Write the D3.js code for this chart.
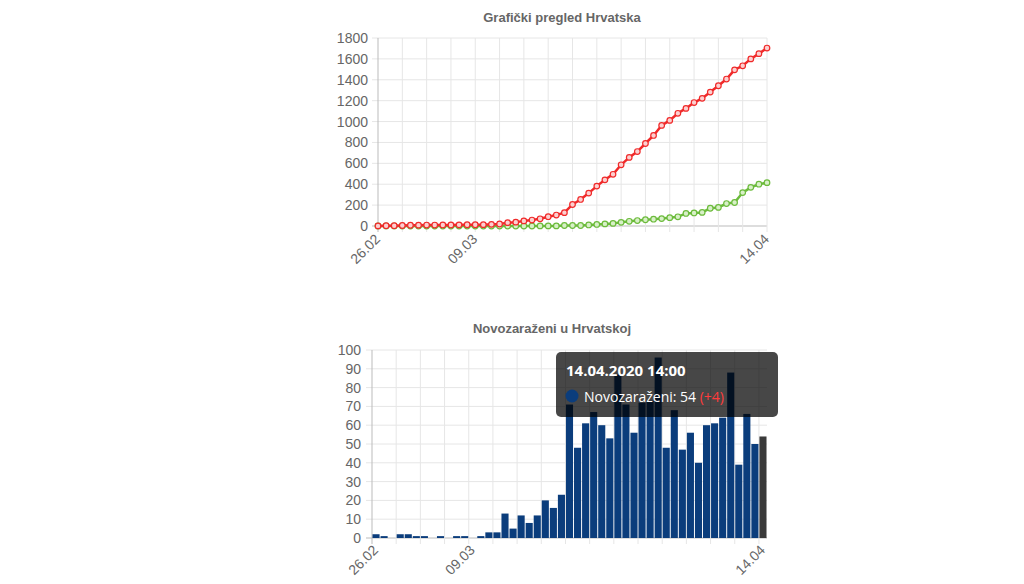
<!DOCTYPE html><html><head><meta charset="utf-8"><script src="https://cdn.jsdelivr.net/npm/d3@7"></script>
<style>body{margin:0;background:#fff;font-family:"Liberation Sans",Arial,sans-serif}</style></head><body><svg id="c" width="1024" height="584"></svg>
<script>
const dates=["26.02","27.02","28.02","29.02","01.03","02.03","03.03","04.03","05.03","06.03","07.03","08.03","09.03","10.03","11.03","12.03","13.03","14.03","15.03","16.03","17.03","18.03","19.03","20.03","21.03","22.03","23.03","24.03","25.03","26.03","27.03","28.03","29.03","30.03","31.03","01.04","02.04","03.04","04.04","05.04","06.04","07.04","08.04","09.04","10.04","11.04","12.04","13.04","14.04"];
const tickLabels=["26.02","09.03","14.04"];
const infected=[1,3,3,5,7,8,9,9,10,10,11,12,12,13,16,19,32,37,49,57,69,89,105,128,206,254,315,382,442,495,586,657,713,790,867,963,1011,1079,1126,1182,1222,1282,1343,1407,1495,1534,1600,1650,1704];
const recovered=[0,0,0,0,0,0,0,0,0,0,0,0,0,0,0,0,0,0,0,0,0,1,1,1,5,5,5,10,15,20,25,35,45,52,60,65,71,80,88,120,125,130,170,178,215,225,320,370,400,415];
const newCases=[2,1,0,2,2,1,1,0,1,0,1,1,0,1,3,3,13,5,12,8,12,20,16,23,71,48,61,67,60,53,87,71,56,72,73,96,48,68,47,56,40,60,61,64,88,39,66,50,54];
const yTicksTop=d3.range(0,1801,200), yTicksBot=d3.range(0,101,10);
const svg=d3.select("#c");
const grid="#e6e6e6", axisC="#bbb", txt="#666";
// top chart
const x1=d3.scaleLinear().domain([0,48]).range([378,767]);
const y1=d3.scaleLinear().domain([0,1800]).range([226,38]);
const g1=svg.append("g");
g1.selectAll(".gy").data(yTicksTop).join("line").attr("x1",372).attr("x2",767).attr("y1",d=>y1(d)).attr("y2",d=>y1(d)).attr("stroke",d=>d?grid:axisC);
g1.selectAll(".gx").data(d3.range(0,49,3)).join("line").attr("x1",d=>x1(d)).attr("x2",d=>x1(d)).attr("y1",38).attr("y2",232).attr("stroke",d=>d?grid:axisC);
g1.selectAll(".ty").data(yTicksTop).join("text").attr("x",368).attr("y",d=>y1(d)+5).attr("text-anchor","end").attr("font-size",14).attr("fill",txt).text(d=>d);
g1.selectAll(".tx").data(tickLabels).join("text").attr("transform",d=>`translate(${x1(dates.indexOf(d))+3},${240}) rotate(-45)`).attr("text-anchor","end").attr("font-size",14).attr("fill",txt).text(d=>d);
svg.append("text").attr("x",562).attr("y",22).attr("text-anchor","middle").attr("font-size",13).attr("font-weight","bold").attr("fill",txt).text("Grafički pregled Hrvatska");
function series(data,col,fill){
 const s=data.slice(0,49);
 g1.append("path").datum(s).attr("fill","none").attr("stroke",col).attr("stroke-width",2.5).attr("d",d3.line().x((d,i)=>x1(i)).y(d=>y1(d)));
 g1.selectAll(null).data(s).join("circle").attr("cx",(d,i)=>x1(i)).attr("cy",d=>y1(d)).attr("r",2.8).attr("fill",fill).attr("stroke",col).attr("stroke-width",1.2);
}
series(recovered.slice(1),"#6cbb3c","#d8f0c8");
series(infected,"#f02a2a","#fcd0d0");
// bottom chart
const x2=d3.scaleBand().domain(dates).range([372,767]).paddingInner(0.12).paddingOuter(0.06);
const step=x2.step();
const y2=d3.scaleLinear().domain([0,100]).range([538,350]);
const g2=svg.append("g");
g2.selectAll(".gy").data(yTicksBot).join("line").attr("x1",366).attr("x2",767).attr("y1",d=>y2(d)).attr("y2",d=>y2(d)).attr("stroke",d=>d?grid:axisC);
g2.selectAll(".gx").data(d3.range(0,49,3)).join("line").attr("x1",d=>372+d*step).attr("x2",d=>372+d*step).attr("y1",350).attr("y2",544).attr("stroke",d=>d?grid:axisC);
g2.selectAll(".ty").data(yTicksBot).join("text").attr("x",361).attr("y",d=>y2(d)+5).attr("text-anchor","end").attr("font-size",14).attr("fill",txt).text(d=>d);
g2.selectAll(".tx").data(tickLabels).join("text").attr("transform",d=>`translate(${x2(d)+x2.bandwidth()/2+3},${551}) rotate(-45)`).attr("text-anchor","end").attr("font-size",14).attr("fill",txt).text(d=>d);
svg.append("text").attr("x",552).attr("y",333).attr("text-anchor","middle").attr("font-size",13).attr("font-weight","bold").attr("fill",txt).text("Novozaraženi u Hrvatskoj");
g2.selectAll("rect").data(newCases).join("rect").attr("x",(d,i)=>x2(dates[i])).attr("width",x2.bandwidth()).attr("y",d=>y2(d)).attr("height",d=>538-y2(d)).attr("fill",(d,i)=>i===48?"#3a3a3a":"#0b3d7c");
// tooltip
const tt=svg.append("g");
tt.append("rect").attr("x",556).attr("y",352).attr("width",222).attr("height",65).attr("rx",5).attr("fill","rgba(0,0,0,0.72)");
tt.append("text").attr("x",566).attr("y",376).attr("font-size",15).attr("font-weight","bold").attr("fill","#fff").attr("font-family","Open Sans, sans-serif").text("14.04.2020 14:00");
tt.append("circle").attr("cx",572).attr("cy",396).attr("r",6.5).attr("fill","#0b3d7c");
const t2=tt.append("text").attr("x",584).attr("y",402).attr("font-size",14).attr("fill","#fff").attr("font-family","Open Sans, sans-serif");
t2.append("tspan").text("Novozaraženi: "+newCases[48]+" ");
t2.append("tspan").attr("fill","#ff3b3b").text("(+4)");
</script></body></html>
